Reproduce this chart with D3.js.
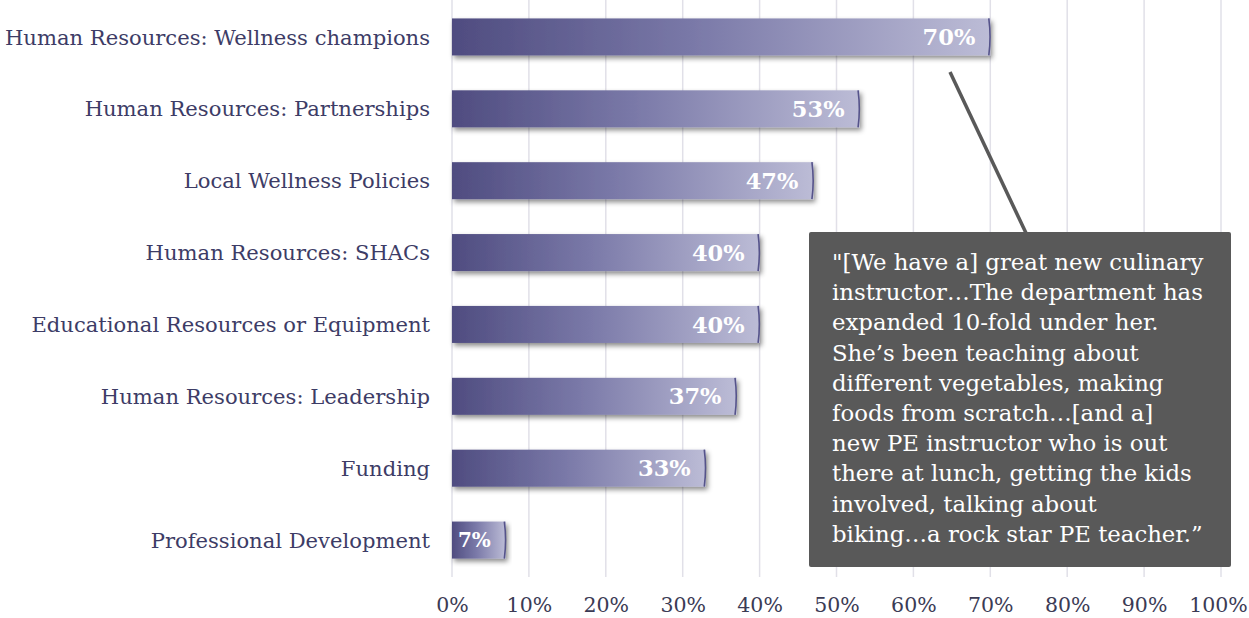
<!DOCTYPE html>
<html><head><meta charset="utf-8">
<script src="https://cdn.jsdelivr.net/npm/d3@7"></script>
<style>body{margin:0;background:#fff}svg{display:block}</style>
</head><body>
<svg id="c" width="1249" height="618"></svg>
<script>
const categories = ["Human Resources: Wellness champions","Human Resources: Partnerships","Local Wellness Policies","Human Resources: SHACs","Educational Resources or Equipment","Human Resources: Leadership","Funding","Professional Development"];
const values = [70,53,47,40,40,37,33,7];
const tickValues = [0,10,20,30,40,50,60,70,80,90,100];
const quoteLines = ["\"[We have a] great new culinary","instructor\u2026The department has","expanded 10-fold under her.","She\u2019s been teaching about","different vegetables, making","foods from scratch\u2026[and a]","new PE instructor who is out","there at lunch, getting the kids","involved, talking about","biking\u2026a rock star PE teacher.\u201d"];

const FONT = "'DejaVu Serif', 'Liberation Serif', serif";
const svg = d3.select("#c");
const x = d3.scaleLinear().domain([0,100]).range([452,1221]);
const y = d3.scaleBand().domain(categories).range([1,576]).paddingInner(0.485).paddingOuter(0.2425);

const defs = svg.append("defs");
const g = defs.append("linearGradient").attr("id","bg").attr("x1","0").attr("x2","1").attr("y1","0").attr("y2","0");
g.append("stop").attr("offset","0").attr("stop-color","#4f4c80");
g.append("stop").attr("offset","0.45").attr("stop-color","#7a79a8");
g.append("stop").attr("offset","1").attr("stop-color","#bcbcd6");
const f = defs.append("filter").attr("id","sh").attr("x","-5%").attr("y","-30%").attr("width","115%").attr("height","170%");
f.append("feDropShadow").attr("dx",2).attr("dy",3).attr("stdDeviation",2.5).attr("flood-color","#000").attr("flood-opacity",0.45);

// gridlines
svg.append("g").selectAll("line").data(tickValues).join("line")
  .attr("x1",d=>x(d)).attr("x2",d=>x(d)).attr("y1",0).attr("y2",577)
  .attr("stroke","#e1e0e8").attr("stroke-width",1.5);

// bars
const bars = svg.append("g").selectAll("g").data(categories).join("g");
bars.append("rect")
  .attr("x",x(0)).attr("y",d=>y(d)).attr("width",(d,i)=>x(values[i])-x(0)).attr("height",y.bandwidth())
  .attr("fill","url(#bg)").attr("filter","url(#sh)");
bars.append("path")
  .attr("d",(d,i)=>{const xe=x(values[i]), y0=y(d), h=y.bandwidth(); return `M${xe-1.5},${y0} Q${xe+1},${y0+h/2} ${xe-1.5},${y0+h}`;})
  .attr("fill","none").attr("stroke","#55538a").attr("stroke-width",1.6);
bars.append("text")
  .attr("x",(d,i)=>x(values[i])-15).attr("y",d=>y(d)+y.bandwidth()/2).attr("dy","0.36em")
  .attr("text-anchor","end").attr("fill","#fff").attr("font-weight","bold")
  .attr("font-family",FONT).attr("font-size",(d,i)=>values[i]<10?20:22.5).text((d,i)=>values[i]+"%");

// category labels
svg.append("g").selectAll("text").data(categories).join("text")
  .attr("x",430).attr("y",d=>y(d)+y.bandwidth()/2).attr("dy","0.36em")
  .attr("text-anchor","end").attr("fill","#3d3c66").attr("font-family",FONT).attr("font-size",21.1).text(d=>d);

// x axis labels
const ax = svg.append("g").attr("transform","translate(0,594)")
  .call(d3.axisBottom(x).tickValues(tickValues).tickFormat(d=>d+"%").tickSize(0).tickPadding(0));
ax.select(".domain").remove();
ax.selectAll("text").attr("font-family",FONT).attr("font-size",20.5).attr("fill","#3b3b55").attr("dy","0.9em")
  .attr("dx",d=>d===100?-3:0);

// annotation
svg.append("line").attr("x1",950).attr("y1",72).attr("x2",1026).attr("y2",233)
  .attr("stroke","#595959").attr("stroke-width",3.5);
svg.append("rect").attr("x",809).attr("y",232).attr("width",422).attr("height",335).attr("rx",2)
  .attr("fill","#595959");
svg.append("text").attr("font-family",FONT).attr("font-size",22.8).attr("fill","#fff")
  .selectAll("tspan").data(quoteLines).join("tspan")
  .attr("x",832).attr("y",(d,i)=>270+i*30.2).text(d=>d);
</script>
</body></html>
